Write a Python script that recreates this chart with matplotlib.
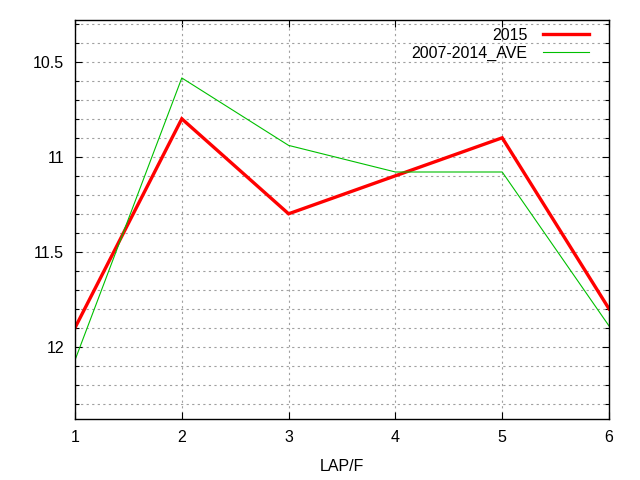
import matplotlib
matplotlib.use("Agg")
import matplotlib.pyplot as plt
import numpy as np

plt.rcParams.update({
    "font.family": ["Liberation Sans", "DejaVu Sans"],
    "font.size": 11.5,
})

# data
laps = [1, 2, 3, 4, 5, 6]
y_2015 = [11.90, 10.80, 11.30, 11.10, 10.90, 11.80]
y_ave = [12.07, 10.585, 10.94, 11.08, 11.08, 11.89]

fig = plt.figure(figsize=(6.4, 4.8), dpi=100)
ax = fig.add_axes([75 / 640, 61 / 480, 534 / 640, 399 / 480])

ax.plot(laps, y_2015, color='#ff0000', lw=2.4, label='2015', solid_joinstyle='miter')
ax.plot(laps, y_ave, color='#00c000', lw=0.8, label='2007-2014_AVE')

ax.set_xlim(1, 6)
ax.set_ylim(12.38, 10.28)
ax.set_xticks(laps)
ax.set_yticks([10.5, 11, 11.5, 12])
ax.set_yticklabels(['10.5', '11', '11.5', '12'])
ax.set_yticks(np.arange(10.3, 12.35, 0.1), minor=True)

ax.grid(True, which='both', color='#a0a0a0', linestyle=(0, (2, 3)), linewidth=0.8)
ax.tick_params(which='both', direction='in', top=True, right=True, length=5, width=0.8, pad=8)
ax.tick_params(which='minor', length=3)
for s in ax.spines.values():
    s.set_linewidth(1.0)

ax.set_xlabel('LAP/F', labelpad=10)

leg = ax.legend(loc='upper right', bbox_to_anchor=(1 - 12 / 534, 1),
                frameon=False, markerfirst=False,
                handlelength=2.9, handletextpad=0.95, borderaxespad=0.1,
                labelspacing=0.15, fontsize=11.5)
for t in leg.get_texts():
    t.set_ha('right')

fig.savefig('out.png', dpi=100)
